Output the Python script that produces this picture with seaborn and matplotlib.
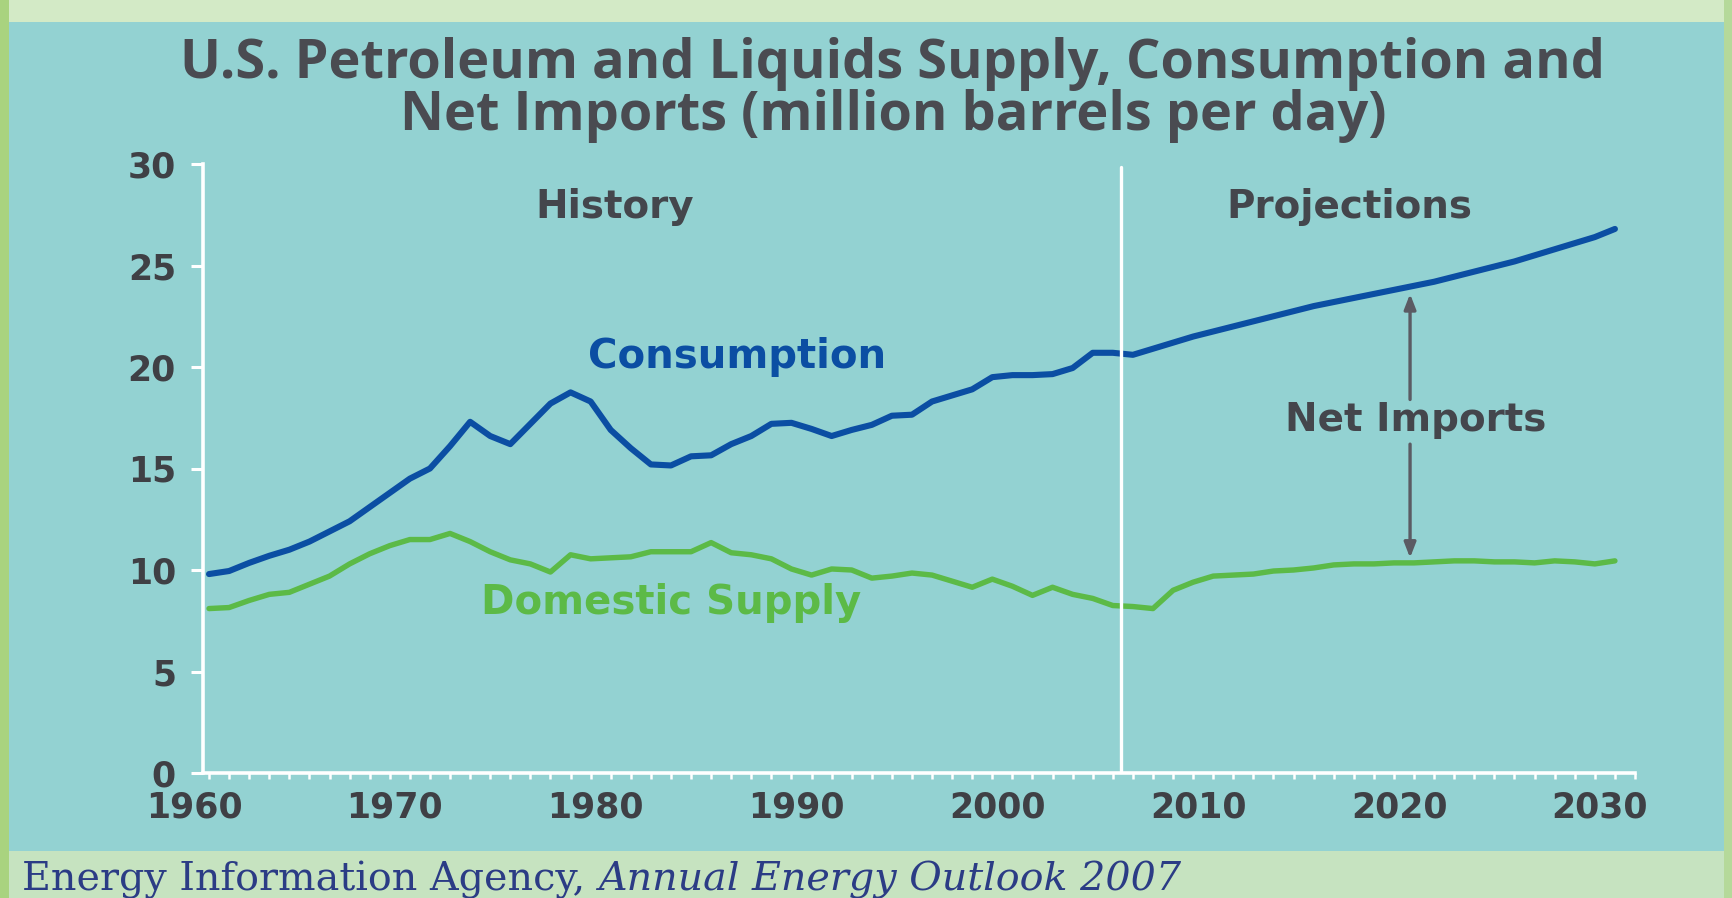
import numpy as np
import pandas as pd
import matplotlib
matplotlib.use("Agg")
import matplotlib.pyplot as plt
import matplotlib.transforms as mtransforms
from matplotlib.patches import Rectangle
from matplotlib.ticker import FixedLocator, MultipleLocator
import seaborn as sns

# ---------------- data ----------------
years = list(range(1960, 2031))
consumption = [
    9.80, 9.95, 10.35, 10.70, 11.00, 11.40, 11.90, 12.40, 13.10, 13.80,
    14.50, 15.00, 16.10, 17.30, 16.60, 16.20, 17.20, 18.20, 18.75, 18.30,
    16.90, 16.00, 15.20, 15.15, 15.60, 15.65, 16.20, 16.60, 17.20, 17.25,
    16.95, 16.60, 16.90, 17.15, 17.60, 17.65, 18.30, 18.60, 18.90, 19.50,
    19.60, 19.60, 19.65, 19.95, 20.70, 20.70,
    20.60, 20.90, 21.20, 21.50, 21.75, 22.00, 22.25, 22.50, 22.75, 23.00,
    23.20, 23.40, 23.60, 23.80, 24.00, 24.20, 24.45, 24.70, 24.95, 25.20,
    25.50, 25.80, 26.10, 26.40, 26.80,
]
domestic_supply = [
    8.10, 8.15, 8.50, 8.80, 8.90, 9.30, 9.70, 10.30, 10.80, 11.20,
    11.50, 11.50, 11.80, 11.40, 10.90, 10.50, 10.30, 9.90, 10.75, 10.55,
    10.60, 10.65, 10.90, 10.90, 10.90, 11.35, 10.85, 10.75, 10.55, 10.05,
    9.75, 10.05, 10.00, 9.60, 9.70, 9.85, 9.75, 9.45, 9.15, 9.55,
    9.20, 8.75, 9.15, 8.80, 8.60, 8.25,
    8.20, 8.10, 9.00, 9.40, 9.70, 9.75, 9.80, 9.95, 10.00, 10.10,
    10.25, 10.30, 10.30, 10.35, 10.35, 10.40, 10.45, 10.45, 10.40, 10.40,
    10.35, 10.45, 10.40, 10.30, 10.45,
]
x_ticks = [1960, 1970, 1980, 1990, 2000, 2010, 2020, 2030]
x_tick_labels = ["1960", "1970", "1980", "1990", "2000", "2010", "2020", "2030"]
y_ticks = [0, 5, 10, 15, 20, 25, 30]
y_tick_labels = ["0", "5", "10", "15", "20", "25", "30"]
history_end = 2005.4
arrow_year = 2019.8

df = pd.DataFrame({"year": years, "Consumption": consumption,
                   "Domestic Supply": domestic_supply})

# ---------------- style ----------------
sns.set_style("white")
plt.rcParams["font.family"] = ["DejaVu Sans"]

BLUE = "#0b4ea3"
GREEN = "#5cba47"
GRAY = "#44464c"
TEAL = "#93d2d2"

W, H = 1733, 898
fig = plt.figure(figsize=(W / 100, H / 100), dpi=100, facecolor="#c6e3c0")

def frect(x0, y0, x1, y1, color):
    fig.patches.append(Rectangle((x0 / W, 1 - y1 / H), (x1 - x0) / W, (y1 - y0) / H,
                                 transform=fig.transFigure, facecolor=color,
                                 edgecolor="none", zorder=-10))

frect(0, 0, W, 22, "#d3eac6")
frect(0, 0, 9, H, "#a9d37f")
frect(1724, 0, W, H, "#b5d99a")
frect(9, 22, 1724, 851, TEAL)

ax = fig.add_axes([203 / W, 1 - 773 / H, (1635 - 203) / W, (773 - 164) / H])
ax.set_facecolor("none")
ax.set_zorder(2)

sns.lineplot(data=df, x="year", y="Consumption", ax=ax, color=BLUE, lw=4.4,
             solid_joinstyle="round", solid_capstyle="round")
sns.lineplot(data=df, x="year", y="Domestic Supply", ax=ax, color=GREEN, lw=3.9,
             solid_joinstyle="round", solid_capstyle="round")

ax.set_xlim(1959.7, 2031)
ax.set_ylim(0, 30)
ax.set_xlabel("")
ax.set_ylabel("")

for s in ["top", "right"]:
    ax.spines[s].set_visible(False)
for s in ["left", "bottom"]:
    ax.spines[s].set_color("white")
    ax.spines[s].set_linewidth(2.6)

ax.xaxis.set_major_locator(FixedLocator(x_ticks))
ax.xaxis.set_minor_locator(MultipleLocator(1))
ax.set_xticklabels(x_tick_labels)
ax.yaxis.set_major_locator(FixedLocator(y_ticks))
ax.set_yticklabels(y_tick_labels)

ax.tick_params(axis="x", which="both", direction="out", length=4.5, width=1.8,
               color="white", bottom=True, pad=8)
ax.tick_params(axis="x", which="major", labelsize=25, labelcolor="#3f4045")
ax.tick_params(axis="y", which="major", direction="out", length=8.5, width=2.2,
               color="white", left=True, pad=11, labelsize=25, labelcolor="#3f4045")
for lab in ax.get_xticklabels() + ax.get_yticklabels():
    lab.set_fontweight("bold")
offset = mtransforms.ScaledTranslation(-15 / 100, 0, fig.dpi_scale_trans)
for lab in ax.xaxis.get_majorticklabels():
    lab.set_transform(lab.get_transform() + offset)

ax.axvline(history_end, ymin=0, ymax=0.995, color="white", lw=2.4)

# annotations
ax.text(1980.2, 27.9, "History", ha="center", va="center", fontsize=28,
        fontweight="bold", color=GRAY)
ax.text(2016.8, 27.9, "Projections", ha="center", va="center", fontsize=28,
        fontweight="bold", color=GRAY)
ax.text(1986.3, 20.5, "Consumption", ha="center", va="center", fontsize=29,
        fontweight="bold", color=BLUE)
ax.text(1983.0, 8.37, "Domestic Supply", ha="center", va="center", fontsize=29,
        fontweight="bold", color=GREEN)
ax.text(2020.1, 17.4, "Net Imports", ha="center", va="center", fontsize=28,
        fontweight="bold", color=GRAY)

arrow_kw = dict(arrowstyle="-|>,head_length=0.9,head_width=0.35", color="#5b5b63",
                lw=2.4, shrinkA=0, shrinkB=0)
ax.annotate("", xy=(arrow_year, 23.6), xytext=(arrow_year, 18.4), arrowprops=arrow_kw)
ax.annotate("", xy=(arrow_year, 10.6), xytext=(arrow_year, 16.2), arrowprops=arrow_kw)

# title
fig.text(893 / W, 1 - 64 / H, "U.S. Petroleum and Liquids Supply, Consumption and",
         ha="center", va="center", fontsize=39, fontweight="bold",
         family=["Open Sans", "DejaVu Sans"], color="#4a4b51")
fig.text(893 / W, 1 - 116 / H, "Net Imports (million barrels per day)",
         ha="center", va="center", fontsize=39, fontweight="bold",
         family=["Open Sans", "DejaVu Sans"], color="#4a4b51")

# source caption
t1 = fig.text(22 / W, 1 - 880 / H, "Energy Information Agency, ", ha="left",
              va="center", fontsize=28.5, family=["DejaVu Serif"], color="#2b3c85")
ax.annotate("Annual Energy Outlook 2007", xy=(1, 0.5), xycoords=t1,
            ha="left", va="center", fontsize=28.5, family=["DejaVu Serif"],
            style="italic", color="#2b3c85", annotation_clip=False)

fig.savefig("out.png", dpi=100, facecolor=fig.get_facecolor())
